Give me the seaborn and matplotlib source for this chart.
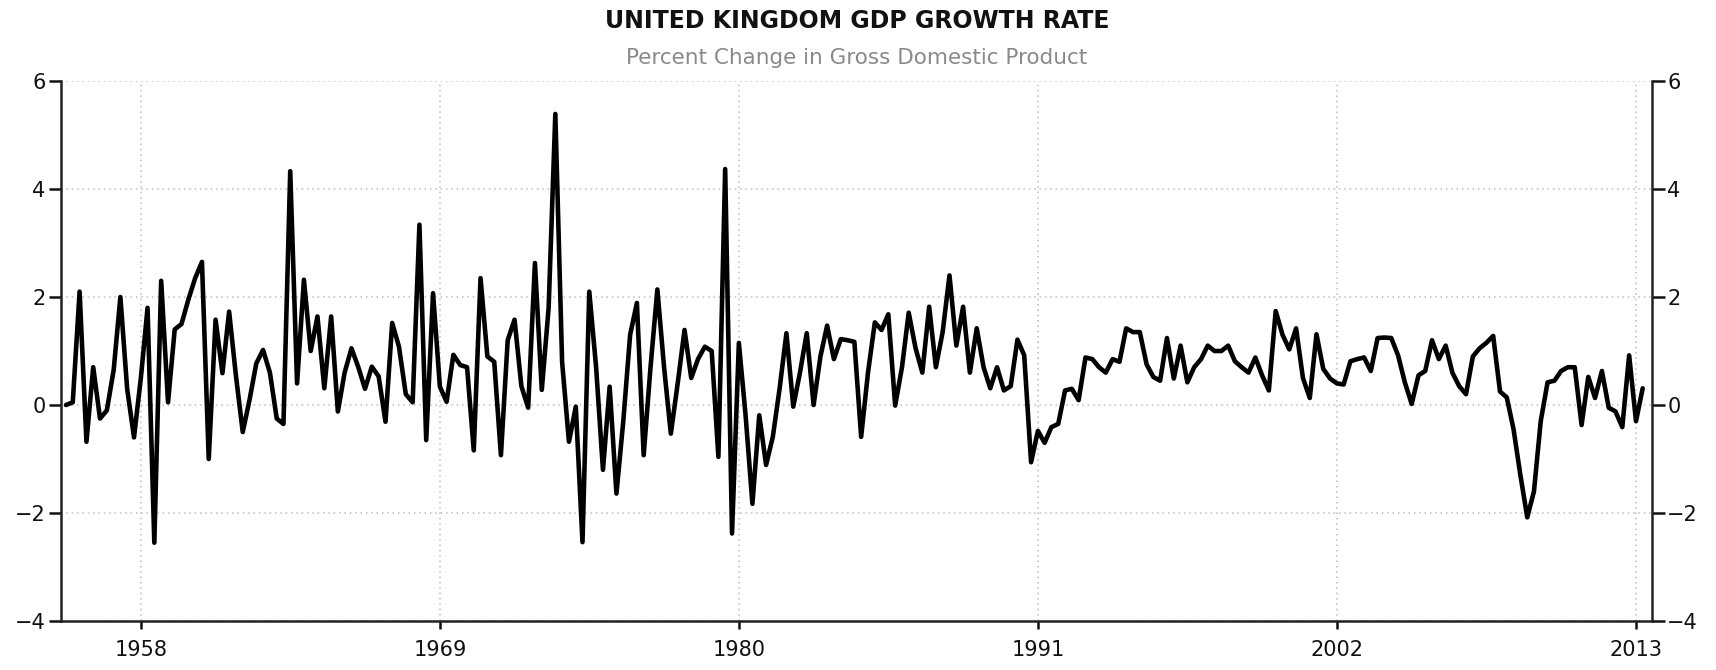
import pandas as pd
import matplotlib.pyplot as plt
import matplotlib.dates as mdates
import seaborn as sns

# Quarterly GDP growth, percent change q/q
growth_1950s = [0.0, 0.05, 2.1, -0.68, 0.7, -0.25, -0.1, 0.65, 2.0, 0.3,
                -0.6, 0.5, 1.8, -2.55, 2.3, 0.05, 1.4, 1.5, 1.95, 2.35]
growth_1960s = [2.65, -1.0, 1.58, 0.59, 1.73, 0.55, -0.5, 0.1, 0.77, 1.02,
                0.6, -0.25, -0.35, 4.33, 0.4, 2.32, 1.0, 1.64, 0.31, 1.64,
                -0.12, 0.6, 1.05, 0.7, 0.3, 0.71, 0.53, -0.31, 1.52, 1.08,
                0.2, 0.05, 3.34, -0.65, 2.07, 0.34, 0.06, 0.93, 0.74, 0.7]
growth_1970s = [-0.84, 2.35, 0.9, 0.8, -0.93, 1.2, 1.58, 0.35, -0.05, 2.63,
                0.28, 1.8, 5.39, 0.8, -0.68, -0.03, -2.54, 2.1, 0.7, -1.2,
                0.34, -1.64, -0.3, 1.3, 1.89, -0.93, 0.7, 2.14, 0.7, -0.53,
                0.4, 1.39, 0.5, 0.85, 1.08, 1.0, -0.96, 4.37, -2.38, 1.15]
growth_1980s = [-0.2, -1.83, -0.19, -1.11, -0.59, 0.3, 1.33, -0.03, 0.6, 1.33,
                0.0, 0.9, 1.47, 0.85, 1.22, 1.2, 1.17, -0.59, 0.6, 1.53,
                1.39, 1.68, -0.01, 0.7, 1.71, 1.06, 0.6, 1.82, 0.7, 1.35,
                2.4, 1.1, 1.82, 0.6, 1.42, 0.7, 0.31, 0.7, 0.27, 0.35]
growth_1990s = [1.21, 0.92, -1.06, -0.48, -0.7, -0.41, -0.35, 0.27, 0.3, 0.09,
                0.88, 0.85, 0.7, 0.6, 0.85, 0.8, 1.42, 1.35, 1.35, 0.75,
                0.52, 0.45, 1.24, 0.49, 1.1, 0.42, 0.7, 0.85, 1.1, 1.0,
                1.0, 1.1, 0.81, 0.7, 0.6, 0.88, 0.55, 0.27, 1.74, 1.3]
growth_2000s = [1.03, 1.42, 0.5, 0.13, 1.31, 0.67, 0.49, 0.4, 0.38, 0.81,
                0.85, 0.88, 0.63, 1.24, 1.25, 1.24, 0.92, 0.42, 0.02, 0.55,
                0.63, 1.2, 0.85, 1.1, 0.6, 0.35, 0.2, 0.9, 1.05, 1.15,
                1.28, 0.25, 0.14, -0.45, -1.3, -2.08, -1.6, -0.3, 0.42, 0.45]
growth_2010s = [0.63, 0.7, 0.7, -0.37, 0.52, 0.13, 0.63, -0.05, -0.12, -0.41,
                0.92, -0.3, 0.31]

tick_years = [1958, 1969, 1980, 1991, 2002, 2013]
y_ticks = [-4, -2, 0, 2, 4, 6]

values = (growth_1950s + growth_1960s + growth_1970s + growth_1980s
          + growth_1990s + growth_2000s + growth_2010s)
df = pd.DataFrame({
    'date': pd.date_range('1955-03-31', periods=len(values), freq='QE'),
    'growth': values,
})

sns.set_style('white')
plt.rcParams['font.family'] = ['DejaVu Sans']

fig = plt.figure(figsize=(17.16, 6.7), dpi=100)
ax = fig.add_axes([0.0355, 0.0731, 0.9272, 0.806])

sns.lineplot(data=df, x='date', y='growth', ax=ax, color='black',
             linewidth=3.3, solid_joinstyle='round', solid_capstyle='round')

ax.set_xlim(pd.Timestamp('1955-01-22'), pd.Timestamp('2013-08-03'))
ax.set_ylim(-4, 6)
ax.set_xticks([pd.Timestamp(f'{y}-01-01') for y in tick_years])
ax.xaxis.set_major_formatter(mdates.DateFormatter('%Y'))
ax.set_yticks(y_ticks)
ax.set_xlabel('')
ax.set_ylabel('')

ax.grid(True, linestyle=(0, (1, 2.5)), color='#bdbdbd', linewidth=1.1)
ax.set_axisbelow(True)

for side in ['left', 'right', 'bottom']:
    ax.spines[side].set_visible(True)
    ax.spines[side].set_color('#222222')
    ax.spines[side].set_linewidth(1.8)
ax.spines['top'].set_visible(False)

ax.tick_params(axis='y', which='both', left=True, right=True,
               labelleft=True, labelright=True, direction='out',
               length=9, width=1.8, pad=2, labelsize=15, colors='#111111')
ax.tick_params(axis='x', bottom=True, direction='out', length=6, width=1.8,
               pad=8, labelsize=15, colors='#111111')

fig.text(0.4994, 0.968, 'UNITED KINGDOM GDP GROWTH RATE', ha='center',
         va='center', fontsize=17, fontweight='bold', color='#111111')
fig.text(0.4994, 0.913, 'Percent Change in Gross Domestic Product',
         ha='center', va='center', fontsize=15.5, color='#8a8a8a')

fig.savefig('out.png', dpi=100, facecolor='white')
